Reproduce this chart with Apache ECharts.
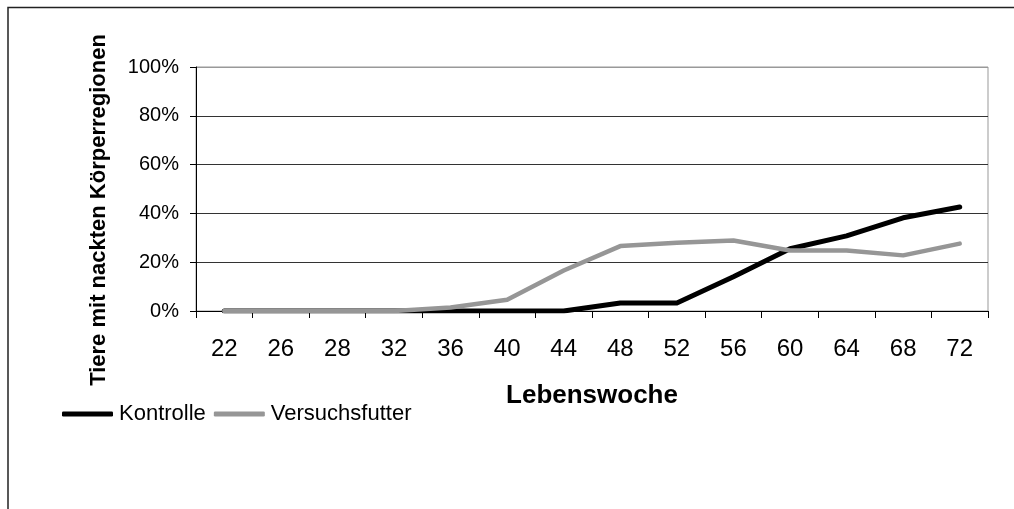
<!DOCTYPE html>
<html>
<head>
<meta charset="utf-8">
<script src="https://cdn.jsdelivr.net/npm/echarts@6/dist/echarts.min.js"></script>
<style>
  html, body { margin: 0; padding: 0; background: #fff; }
  #chart { width: 1014px; height: 509px; }
</style>
</head>
<body>
<div id="chart"></div>
<script>
var weeks = ['22', '26', '28', '32', '36', '40', '44', '48', '52', '56', '60', '64', '68', '72'];
var kontrolle = [0, 0, 0, 0, 0, 0, 0, 3.3, 3.3, 14, 25.5, 30.8, 38.2, 42.6];
var versuchsfutter = [0, 0, 0, 0, 1.4, 4.6, 16.6, 26.6, 28, 28.9, 24.8, 24.8, 22.8, 27.6];
var yTicks = [0, 20, 40, 60, 80, 100];

var font = 'Arial, "Liberation Sans", sans-serif';
var myChart = echarts.init(document.getElementById('chart'));

myChart.setOption({
    animation: false,
    backgroundColor: '#fff',
    grid: {
        left: 196,
        right: 26,
        top: 67,
        bottom: 198,
        show: true,
        borderColor: '#999',
        borderWidth: 1
    },
    legend: {
        left: 62,
        top: 403,
        padding: 0,
        itemWidth: 51,
        itemHeight: 5,
        itemGap: 8,
        icon: 'roundRect',
        textStyle: { fontFamily: font, fontSize: 22, color: '#000', padding: [0, 0, 0, 1] },
        data: ['Kontrolle', 'Versuchsfutter']
    },
    xAxis: {
        type: 'category',
        data: weeks,
        boundaryGap: true,
        name: 'Lebenswoche',
        nameLocation: 'middle',
        nameGap: 72,
        nameTextStyle: { fontFamily: font, fontSize: 26, fontWeight: 'bold', color: '#000' },
        axisLine: { lineStyle: { color: '#000', width: 1 } },
        axisTick: { show: true, length: 7, lineStyle: { color: '#000' } },
        axisLabel: { fontFamily: font, fontSize: 24, color: '#000', margin: 26 },
        splitLine: { show: false }
    },
    yAxis: {
        type: 'value',
        min: yTicks[0],
        max: yTicks[yTicks.length - 1],
        interval: 20,
        axisLine: { show: true, lineStyle: { color: '#000', width: 1 } },
        axisTick: { show: true, length: 6, lineStyle: { color: '#000' } },
        axisLabel: {
            fontFamily: font, fontSize: 20, color: '#000', margin: 17,
            formatter: function (v) { return v + '%'; }
        },
        splitLine: { show: true, lineStyle: { color: ['#000', '#333', '#333', '#333', '#333', '#999'], width: 1 } }
    },
    graphic: [
        {
            type: 'polyline',
            shape: { points: [[8, 509], [8, 7.5], [1014, 7.5]] },
            style: { stroke: '#222', lineWidth: 1.5, fill: null },
            silent: true
        },
        {
            type: 'text',
            x: 99,
            y: 210,
            rotation: Math.PI / 2,
            style: {
                text: 'Tiere mit nackten Körperregionen',
                fontFamily: font,
                fontSize: 22,
                fontWeight: 'bold',
                fill: '#000',
                align: 'center',
                verticalAlign: 'middle'
            }
        }
    ],
    series: [
        {
            name: 'Kontrolle',
            type: 'line',
            data: kontrolle,
            symbol: 'none',
            color: '#000',
            lineStyle: { color: '#000', width: 5, cap: 'round', join: 'round' }
        },
        {
            name: 'Versuchsfutter',
            type: 'line',
            data: versuchsfutter,
            symbol: 'none',
            color: '#969696',
            lineStyle: { color: '#969696', width: 4.5, cap: 'round', join: 'round' }
        }
    ]
});
</script>
</body>
</html>
